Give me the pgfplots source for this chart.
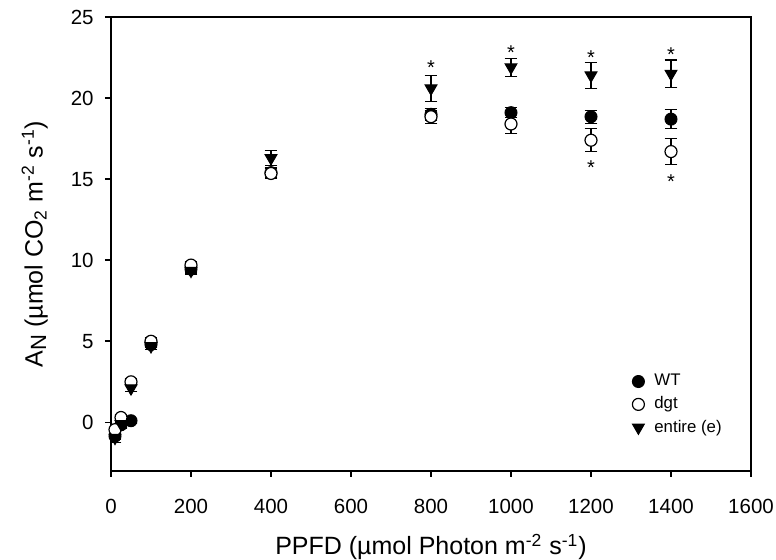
\documentclass[border=0pt]{standalone}
\usepackage{fontspec}
\setmainfont{Liberation Sans}
\usepackage{pgfplots}
\usepackage{pgfplotstable}
\pgfplotsset{compat=1.18}

\pgfplotstableread{
x y e
10 -0.85 0.2
25 -0.15 0.2
50 0.1 0.15
100 4.8 0.2
200 9.45 0.2
400 15.4 0.3
800 19.0 0.35
1000 19.1 0.3
1200 18.85 0.4
1400 18.7 0.6
}\wt
\pgfplotstableread{
x y e
10 -0.45 0.2
25 0.3 0.2
50 2.5 0.2
100 5.0 0.2
200 9.7 0.2
400 15.35 0.3
800 18.85 0.4
1000 18.4 0.6
1200 17.4 0.7
1400 16.7 0.8
}\dgt
\pgfplotstableread{
x y e
10 -0.95 0.3
25 -0.1 0.2
50 2.1 0.2
100 4.7 0.2
200 9.35 0.2
400 16.3 0.45
800 20.6 0.8
1000 21.9 0.55
1200 21.4 0.8
1400 21.5 0.85
}\entire
\pgfplotstableread{
x y
800 21.88
1000 22.83
1200 22.49
1400 22.69
1200 15.70
1400 14.83
}\stars

\begin{document}
\begin{tikzpicture}
\begin{axis}[
  name=ax, scale only axis, width=320pt, height=227pt,
  xmin=0, xmax=1600, ymin=-3, ymax=25,
  xtick={0,200,...,1600}, ytick={0,5,...,25},
  tick pos=left, tick align=outside, major tick length=3pt,
  axis line style={line width=0.8pt},
  every tick/.style={black, line width=0.8pt},
  /pgf/number format/assume math mode=true,
  /pgf/number format/1000 sep={},
  ticklabel style={font=\fontsize{10.25}{12}\selectfont},
  xticklabel style={anchor=center, yshift=-14.5pt},
  yticklabel style={anchor=east, inner sep=0pt, xshift=-5.5pt},
  xlabel={PPFD (µmol Photon m\textsuperscript{-2} s\textsuperscript{-1})},
  ylabel={A{\fontsize{11}{11}\selectfont\raisebox{-0.3ex}{N}} (µmol CO\textsubscript{2} m\textsuperscript{-2} s\textsuperscript{-1})},
  label style={font=\fontsize{12.5}{14}\selectfont},
  xlabel style={at={(axis description cs:0.5,-0.1674)}, anchor=center},
  ylabel style={at={(axis description cs:-0.119,0.5)}, anchor=center},
  legend image code/.code={\path[draw=none, fill=none] (-3.5pt,0pt) -- (7pt,0pt); \draw[#1] plot coordinates {(0pt,0pt)};},
  legend style={draw=none, fill=none, at={(axis description cs:0.8125,0.2184)}, anchor=north west,
    font=\fontsize{8.4}{9}\selectfont, row sep=2pt, inner sep=0pt,
    nodes={inner sep=1pt}},
  legend cell align=left,
  error bars/y dir=both, error bars/y explicit,
  error bars/error bar style={black, line width=0.6pt},
  error bars/error mark options={black, line width=0.6pt, mark size=3.2pt, rotate=90},
]
\addplot[only marks, mark=*, mark size=3pt, mark options={fill=black, draw=black, line width=0.5pt}]
  table[x=x, y=y, y error=e]{\wt};
\addplot[only marks, mark=*, mark size=3pt, mark options={fill=white, draw=black, line width=0.6pt}]
  table[x=x, y=y, y error=e]{\dgt};
\addplot[only marks, mark=triangle*, mark size=3.4pt, mark options={rotate=180, fill=black, draw=black, line width=0.5pt}]
  table[x=x, y=y, y error=e]{\entire};
\addplot[forget plot, only marks, mark=text, text mark={\fontsize{10}{10}\selectfont *}, error bars/y dir=none]
  table[x=x, y=y]{\stars};
\legend{WT, dgt, entire (e)}
\end{axis}
\pgfresetboundingbox
\path ([shift={(-55.5pt,-44.5pt)}]ax.south west) rectangle ([shift={(12.5pt,8.5pt)}]ax.north east);
\end{tikzpicture}
\end{document}
